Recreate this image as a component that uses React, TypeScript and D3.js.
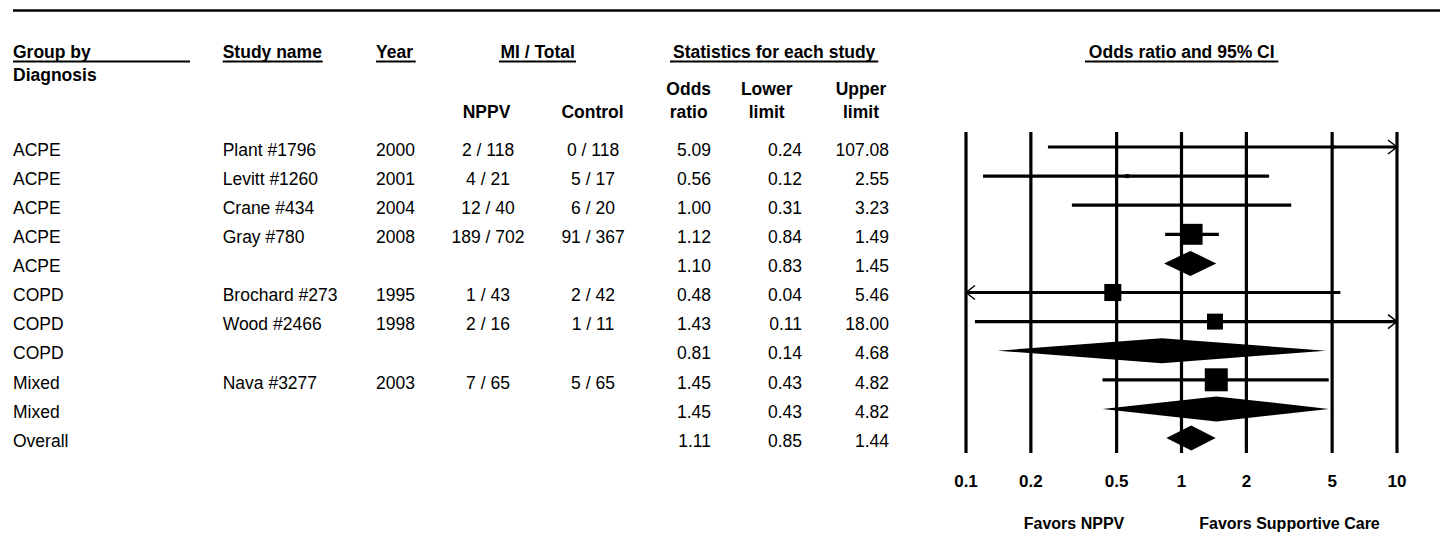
import React from "react";
import * as d3 from "d3";

// ---------- data ----------
const groups = ["ACPE", "ACPE", "ACPE", "ACPE", "ACPE", "COPD", "COPD", "COPD", "Mixed", "Mixed", "Overall"];
const studies = ["Plant #1796", "Levitt #1260", "Crane #434", "Gray #780", "", "Brochard #273", "Wood #2466", "", "Nava #3277", "", ""];
const years = ["2000", "2001", "2004", "2008", "", "1995", "1998", "", "2003", "", ""];
const nppv = ["2 / 118", "4 / 21", "12 / 40", "189 / 702", "", "1 / 43", "2 / 16", "", "7 / 65", "", ""];
const control = ["0 / 118", "5 / 17", "6 / 20", "91 / 367", "", "2 / 42", "1 / 11", "", "5 / 65", "", ""];
const oddsRatio = [5.09, 0.56, 1.0, 1.12, 1.1, 0.48, 1.43, 0.81, 1.45, 1.45, 1.11];
const lowerLimit = [0.24, 0.12, 0.31, 0.84, 0.83, 0.04, 0.11, 0.14, 0.43, 0.43, 0.85];
const upperLimit = [107.08, 2.55, 3.23, 1.49, 1.45, 5.46, 18.0, 4.68, 4.82, 4.82, 1.44];
const isSummary = [false, false, false, false, true, false, false, true, false, true, true];
const relWeight = [1.7, 3, 2.5, 83, 0, 55, 48, 0, 100, 0, 0];
const tickValues = [0.1, 0.2, 0.5, 1, 2, 5, 10];
const tickLabels = ["0.1", "0.2", "0.5", "1", "2", "5", "10"];

const W = 1450;
const H = 541;
const FONT = "'Liberation Sans', Arial, sans-serif";

export default function App() {
  const x = d3.scaleLog().domain([0.1, 10]).range([966, 1397]);
  const y = d3.scaleLinear().domain([0, 10]).range([147, 438]);
  const size = d3.scaleSqrt().domain([0, 100]).range([0, 23]);
  const fmt = d3.format(".2f");
  const [xmin, xmax] = x.domain();

  const fs = 17.5;
  const textDy = 8.7;

  const header = (txt: string, xx: number, yy: number, anchor: string) => (
    <text x={xx} y={yy} textAnchor={anchor as any} fontWeight="bold" fontSize={fs}>
      {txt}
    </text>
  );

  const underline = (x1: number, x2: number) => (
    <line x1={x1} x2={x2} y1={61.5} y2={61.5} stroke="#000" strokeWidth={2} />
  );

  return (
    <svg
      width={W}
      height={H}
      style={{ position: "absolute", left: 0, top: 0, background: "#fff" }}
      fontFamily={FONT}
    >
      <rect x={0} y={0} width={W} height={H} fill="#fff" />
      {/* top rule */}
      <line x1={13} x2={1440} y1={10.5} y2={10.5} stroke="#000" strokeWidth={2.5} />

      {/* headers */}
      {header("Group by", 13, 58.3, "start")}
      {underline(13, 190)}
      {header("Diagnosis", 13, 81, "start")}
      {header("Study name", 222.7, 58.3, "start")}
      {underline(222.7, 322.7)}
      {header("Year", 376, 58.3, "start")}
      {underline(376, 415.7)}
      {header("MI / Total", 537.7, 58.3, "middle")}
      {underline(499, 576)}
      {header("Statistics for each study", 774.2, 58.3, "middle")}
      {underline(670, 878.3)}
      {header("Odds ratio and 95% CI", 1181.7, 58.3, "middle")}
      {underline(1085, 1278.3)}
      {header("NPPV", 486.5, 117.5, "middle")}
      {header("Control", 592.5, 117.5, "middle")}
      {header("Odds", 688.7, 95, "middle")}
      {header("ratio", 688.7, 117.7, "middle")}
      {header("Lower", 766.7, 95, "middle")}
      {header("limit", 766.7, 117.7, "middle")}
      {header("Upper", 861, 95, "middle")}
      {header("limit", 861, 117.7, "middle")}

      {/* table rows */}
      {groups.map((g, i) => {
        const yy = y(i) + textDy;
        return (
          <g key={"row" + i} fontSize={fs}>
            <text x={13} y={yy}>{g}</text>
            <text x={222.7} y={yy}>{studies[i]}</text>
            <text x={376} y={yy}>{years[i]}</text>
            <text x={488} y={yy} textAnchor="middle">{nppv[i]}</text>
            <text x={593} y={yy} textAnchor="middle">{control[i]}</text>
            <text x={711} y={yy} textAnchor="end">{fmt(oddsRatio[i])}</text>
            <text x={802} y={yy} textAnchor="end">{fmt(lowerLimit[i])}</text>
            <text x={889} y={yy} textAnchor="end">{fmt(upperLimit[i])}</text>
          </g>
        );
      })}

      {/* vertical reference lines */}
      {tickValues.map((t, i) => (
        <line key={"v" + i} x1={x(t)} x2={x(t)} y1={132} y2={453} stroke="#000" strokeWidth={3.2} />
      ))}

      {/* CIs and markers */}
      {oddsRatio.map((or, i) => {
        const yy = y(i);
        const lo = lowerLimit[i];
        const hi = upperLimit[i];
        if (isSummary[i]) {
          const xl = x(Math.max(lo, xmin));
          const xr = x(Math.min(hi, xmax));
          const xc = x(or);
          const h = 12.5;
          const path = d3.path();
          path.moveTo(xl, yy);
          path.lineTo(xc, yy - h);
          path.lineTo(xr, yy);
          path.lineTo(xc, yy + h);
          path.closePath();
          return <path key={"d" + i} d={path.toString()} fill="#000" />;
        }
        const xl = x(Math.max(lo, xmin));
        const xr = x(Math.min(hi, xmax));
        const s = size(relWeight[i]);
        const xc = x(or);
        return (
          <g key={"ci" + i}>
            <line x1={xl} x2={xr} y1={yy} y2={yy} stroke="#000" strokeWidth={3.2} />
            <rect x={xc - s / 2} y={yy - s / 2} width={s} height={s} fill="#000" />
            {hi > xmax && (
              <path
                d={`M${xr - 9},${yy - 7}L${xr},${yy}L${xr - 9},${yy + 7}`}
                fill="none"
                stroke="#000"
                strokeWidth={1.5}
              />
            )}
            {lo < xmin && (
              <path
                d={`M${xl + 9},${yy - 7}L${xl},${yy}L${xl + 9},${yy + 7}`}
                fill="none"
                stroke="#000"
                strokeWidth={1.5}
              />
            )}
          </g>
        );
      })}

      {/* tick labels */}
      {tickValues.map((t, i) => (
        <text key={"t" + i} x={x(t)} y={487} textAnchor="middle" fontWeight="bold" fontSize={17}>
          {tickLabels[i]}
        </text>
      ))}

      <text x={1074} y={529} textAnchor="middle" fontWeight="bold" fontSize={16}>
        Favors NPPV
      </text>
      <text x={1289.5} y={529} textAnchor="middle" fontWeight="bold" fontSize={16}>
        Favors Supportive Care
      </text>
    </svg>
  );
}
